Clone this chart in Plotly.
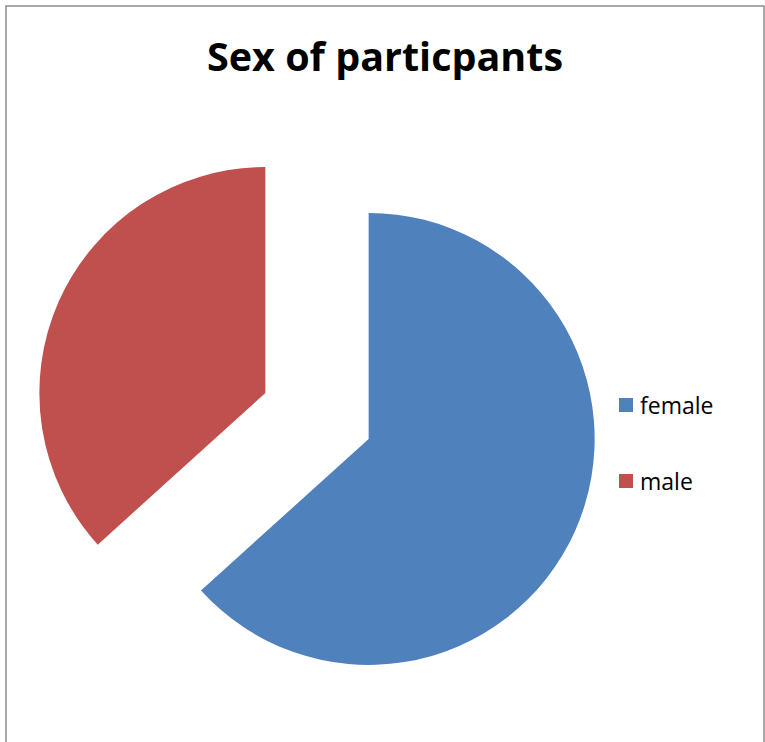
import plotly.graph_objects as go

labels = ["female", "male"]
values = [63.3, 36.7]
colors = ["#4F81BD", "#C0504D"]
title_text = "Sex of particpants"

W, H = 765, 742

fig = go.Figure()
fig.add_trace(go.Pie(
    labels=labels,
    values=values,
    marker=dict(colors=colors, line=dict(width=0)),
    sort=False,
    direction="clockwise",
    rotation=0,
    pull=[0.25, 0.25],
    textinfo="none",
    hoverinfo="label+percent",
    showlegend=False,
    domain=dict(x=[34.5 / W, 599.5 / W], y=[43.5 / H, 608.5 / H]),
))

shapes = [dict(type="rect", xref="paper", yref="paper",
               x0=6 / W, x1=764 / W, y0=-0.05, y1=(H - 6) / H,
               line=dict(color="#8c8c8c", width=1.5), fillcolor="rgba(0,0,0,0)")]
annotations = []
leg_y_px = [405, 481]
for lab, col, yp in zip(labels, colors, leg_y_px):
    shapes.append(dict(type="rect", xref="paper", yref="paper",
                       x0=619 / W, x1=633 / W,
                       y0=(H - yp - 7) / H, y1=(H - yp + 7) / H,
                       line=dict(width=0), fillcolor=col))
    annotations.append(dict(text=lab, xref="paper", yref="paper",
                            x=638 / W, y=(H - yp) / H, xanchor="left", yanchor="middle",
                            showarrow=False,
                            font=dict(family="Open Sans", size=23, color="#000")))

fig.update_layout(
    width=W, height=H,
    margin=dict(l=0, r=0, t=0, b=0),
    paper_bgcolor="white",
    title=dict(text="<b>" + title_text + "</b>", x=385 / W, xanchor="center",
               y=(H - 57) / H, yanchor="middle",
               font=dict(family="Open Sans", size=39.5, color="#000")),
    shapes=shapes,
    annotations=annotations,
)

fig.write_html("out.html")
